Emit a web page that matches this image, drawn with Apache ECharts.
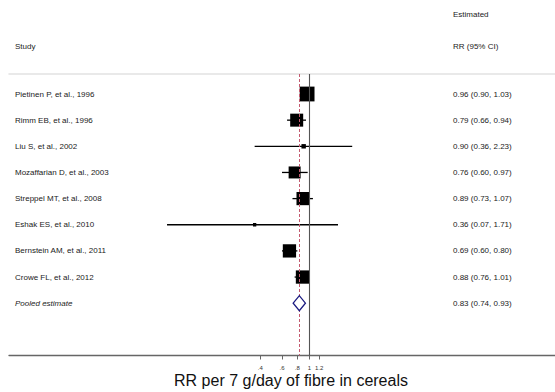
<!DOCTYPE html>
<html>
<head>
<meta charset="utf-8">
<script src="https://cdn.jsdelivr.net/npm/echarts@6/dist/echarts.min.js"></script>
<style>
html,body{margin:0;padding:0;background:#fff;}
#chart{width:555px;height:392px;}
</style>
</head>
<body>
<div id="chart"></div>
<script>
// ---- data ----
const studies = ["Pietinen P, et al., 1996", "Rimm EB, et al., 1996", "Liu S, et al., 2002",
  "Mozaffarian D, et al., 2003", "Streppel MT, et al., 2008", "Eshak ES, et al., 2010",
  "Bernstein AM, et al., 2011", "Crowe FL, et al., 2012"];
const rr = [0.96, 0.79, 0.90, 0.76, 0.89, 0.36, 0.69, 0.88];
const lower = [0.90, 0.66, 0.36, 0.60, 0.73, 0.07, 0.60, 0.76];
const upper = [1.03, 0.94, 2.23, 0.97, 1.07, 1.71, 0.80, 1.01];
const weights = [20.1, 15.5, 1.8, 13.2, 15.9, 1.0, 16.2, 16.2];
const rrText = ["0.96 (0.90, 1.03)", "0.79 (0.66, 0.94)", "0.90 (0.36, 2.23)", "0.76 (0.60, 0.97)",
  "0.89 (0.73, 1.07)", "0.36 (0.07, 1.71)", "0.69 (0.60, 0.80)", "0.88 (0.76, 1.01)"];
const pooledLabel = "Pooled estimate";
const pooled = 0.83, pooledLower = 0.74, pooledUpper = 0.93;
const pooledText = "0.83 (0.74, 0.93)";
const xTicks = [0.4, 0.6, 0.8, 1, 1.2];
const xTitle = "RR per 7 g/day of fibre in cereals";

// ---- layout helpers ----
const PX_PER_LN = 53.5, X_ONE = 309.3, GRID_L = 9, W = 555;
const xMin = Math.exp((GRID_L - X_ONE) / PX_PER_LN);
const xMax = Math.exp((W - X_ONE) / PX_PER_LN);
const FONT = 'Liberation Sans, Arial, sans-serif';
const TXT = '#222';

const studyData = studies.map((s, i) => [rr[i], lower[i], upper[i], i, weights[i]]);
const textRows = studies.map((s, i) => [1, i, s, rrText[i], 0]);
textRows.push([1, studies.length, pooledLabel, pooledText, 1]);
const pooledRow = studies.length;

const chart = echarts.init(document.getElementById('chart'), null, {renderer: 'svg'});
chart.setOption({
  animation: false,
  backgroundColor: '#fff',
  grid: {left: GRID_L, right: 0, top: 74, bottom: 36.5},
  xAxis: [{
    type: 'log', min: xMin, max: xMax,
    axisLine: {show: true, onZero: false, lineStyle: {color: '#666', width: 1.3}},
    axisTick: {show: true, customValues: xTicks, length: 4, lineStyle: {color: '#666'}},
    axisLabel: {show: true, customValues: xTicks, fontSize: 6, color: '#333', margin: 9, fontFamily: FONT,
      formatter: v => { const r = +(+v).toFixed(2); return r === 1 ? '1' : String(r).replace(/^0/, ''); }},
    splitLine: {show: false}, minorTick: {show: false}
  }, {
    type: 'value', position: 'top', min: 0, max: 1,
    axisLine: {show: true, onZero: false, lineStyle: {color: '#e2e2e2', width: 1.5}},
    axisTick: {show: false}, axisLabel: {show: false}, splitLine: {show: false}
  }],
  yAxis: {type: 'value', inverse: true, min: -0.765, max: 10, show: false},
  series: [
    {
      type: 'custom', name: 'refs', xAxisIndex: 0,
      data: [[1, 0]],
      renderItem: () => ({type: 'group', children: []}),
      markLine: {
        silent: true, symbol: 'none', label: {show: false},
        data: [
          {xAxis: 1, lineStyle: {color: '#555', width: 1.1, type: 'solid'}},
          {xAxis: pooled, lineStyle: {color: '#c45a70', width: 1, type: [3, 2]}}
        ]
      }
    },
    {
      type: 'custom', name: 'studies', xAxisIndex: 0,
      data: studyData,
      encode: {x: [0, 1, 2], y: 3},
      renderItem: (params, api) => {
        const c = api.coord([api.value(0), api.value(3)]);
        const l = api.coord([api.value(1), api.value(3)]);
        const h = api.coord([api.value(2), api.value(3)]);
        const s = 3.3 * Math.sqrt(api.value(4));
        return {type: 'group', children: [
          {type: 'line', shape: {x1: l[0], y1: l[1], x2: h[0], y2: h[1]}, style: {stroke: '#000', lineWidth: 1.3}},
          {type: 'rect', shape: {x: c[0] - s / 2, y: c[1] - s / 2, width: s, height: s}, style: {fill: '#000'}}
        ]};
      }
    },
    {
      type: 'custom', name: 'pooled', xAxisIndex: 0, z: 5,
      data: [[pooled, pooledLower, pooledUpper, pooledRow]],
      encode: {x: [0, 1, 2], y: 3},
      renderItem: (params, api) => {
        const c = api.coord([api.value(0), api.value(3)]);
        const l = api.coord([api.value(1), api.value(3)]);
        const h = api.coord([api.value(2), api.value(3)]);
        const hh = 7.5;
        return {type: 'polygon', shape: {points: [[l[0], c[1]], [c[0], c[1] - hh], [h[0], c[1]], [c[0], c[1] + hh]]},
          style: {fill: '#fff', stroke: '#1a1a80', lineWidth: 1.3}};
      }
    },
    {
      type: 'custom', name: 'texts', xAxisIndex: 0,
      data: textRows,
      encode: {y: 1},
      renderItem: (params, api) => {
        const y = api.coord([1, api.value(1)])[1];
        const italic = api.value(4) === 1 ? 'italic' : 'normal';
        const x0 = params.coordSys.x;
        return {type: 'group', children: [
          {type: 'text', x: x0 + 6, y: y, style: {text: textRows[params.dataIndex][2], fontSize: 8, fontStyle: italic,
            fontFamily: FONT, fill: TXT, verticalAlign: 'middle', align: 'left'}},
          {type: 'text', x: x0 + 444, y: y, style: {text: textRows[params.dataIndex][3], fontSize: 8,
            fontFamily: FONT, fill: TXT, verticalAlign: 'middle', align: 'left'}}
        ]};
      }
    }
  ],
  graphic: [
    {type: 'text', left: 15, top: 42, style: {text: 'Study', fontSize: 8, fontFamily: FONT, fill: TXT}},
    {type: 'text', left: 453, top: 10, style: {text: 'Estimated', fontSize: 8, fontFamily: FONT, fill: TXT}},
    {type: 'text', left: 453, top: 42, style: {text: 'RR (95% CI)', fontSize: 8, fontFamily: FONT, fill: TXT}},
    {type: 'text', x: 291, y: 380, style: {text: xTitle, fontSize: 16, fontFamily: FONT, fill: '#111',
      align: 'center', verticalAlign: 'middle'}}
  ]
});
</script>
</body>
</html>
